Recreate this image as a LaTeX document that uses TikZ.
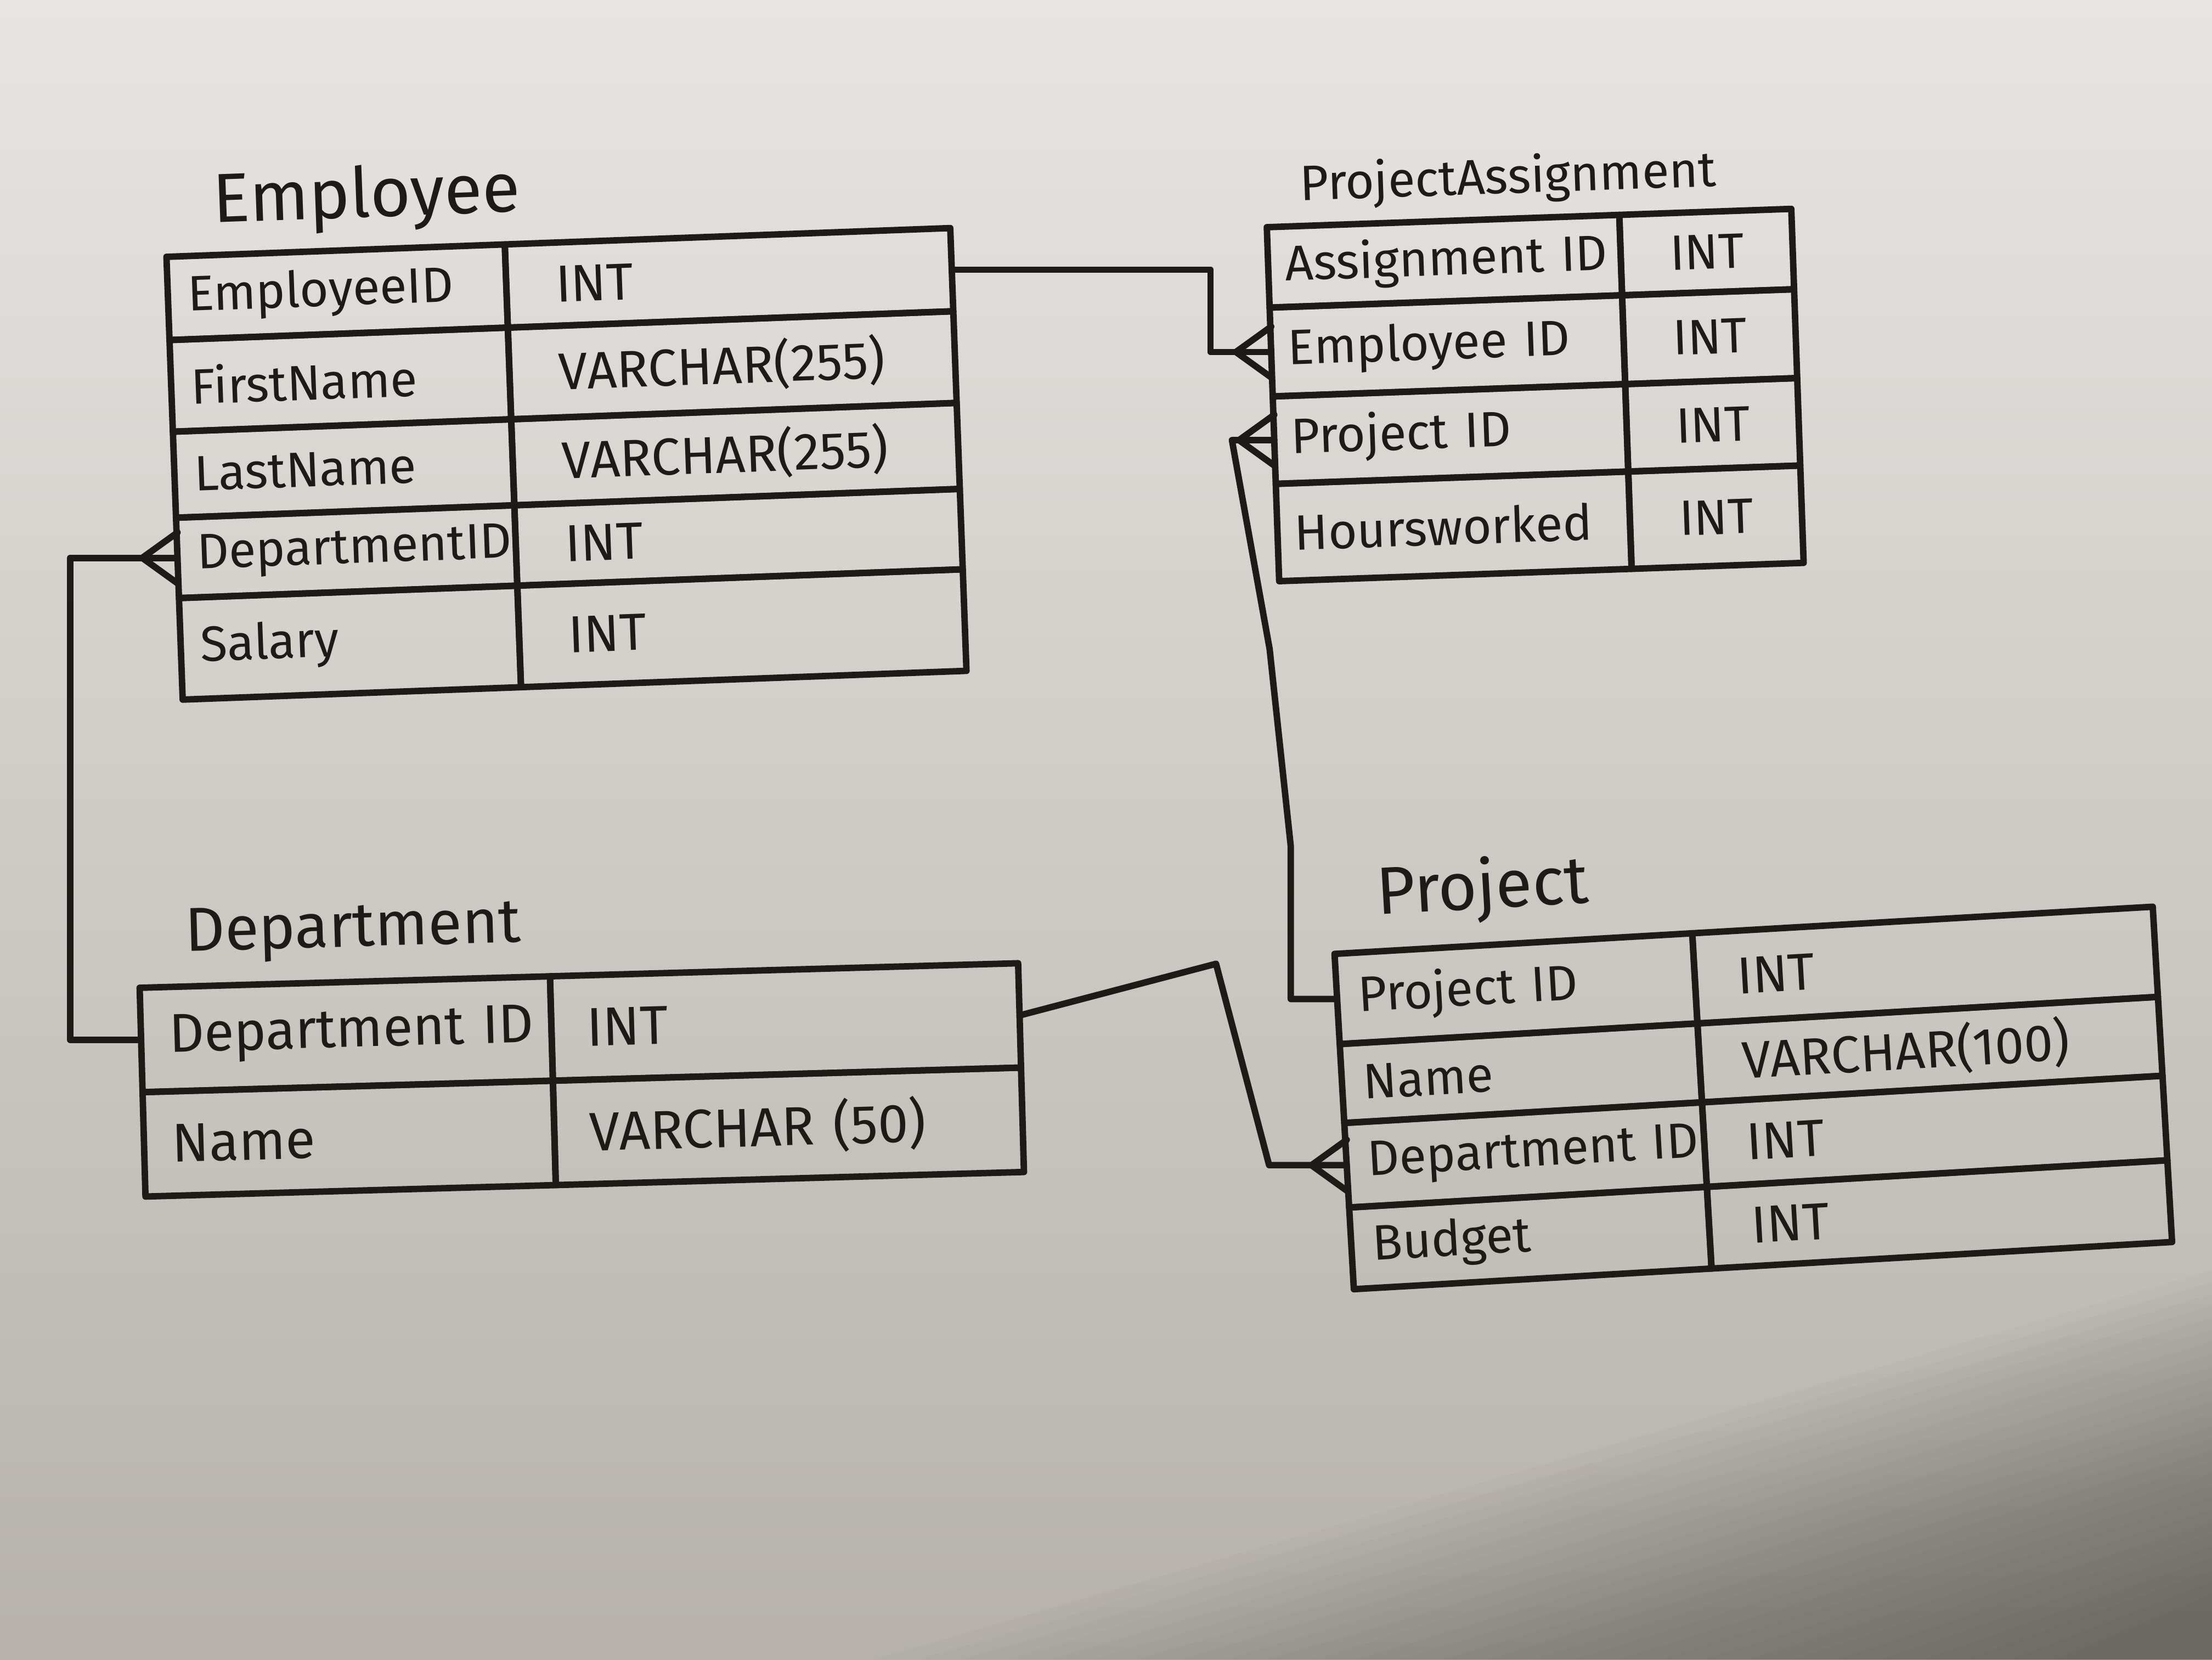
\documentclass[tikz,border=0pt]{standalone}
\usepackage{fontspec}
\setmainfont{Fira Sans}
\usetikzlibrary{arrows.meta,positioning}

\definecolor{inkc}{RGB}{30,26,24}
\definecolor{paperT}{RGB}{231,229,226}
\definecolor{paperM}{RGB}{222,220,216}
\definecolor{paperB}{RGB}{182,178,171}
\definecolor{shadowc}{RGB}{50,47,44}

\begin{document}
\begin{tikzpicture}[x=0.1mm, y=-0.1mm,
    ink/.style={draw=inkc, line width=1.3pt, line cap=round, line join=round},
    cell/.style={ink, anchor=north west, inner sep=0pt, outer sep=0pt, align=left, text=inkc, font=\fontsize{#1}{14}\selectfont},
    cell/.default=11,
    title/.style={anchor=base west, text=inkc, font=\fontsize{#1}{16}\selectfont},
    title/.default=14,
    crow/.pic={\draw[ink] (0,-18) -- (-25,0) -- (0,18);}]

    % paper, with the shadow in the lower right corner
    \shade[top color=paperT, middle color=paperM, bottom color=paperB] (0,0) rectangle (1568,1176);
    \foreach \k in {0,...,27}
        \fill[shadowc, opacity=0.025] (620+31*\k,1176) -- (1568,900+8.5*\k) -- (1568,1176) -- cycle;

    % Employee
    \begin{scope}[shift={(118,182)}, rotate=2.1, transform shape]
        \node[title] (empTitle) at (22,-23) {Employee};
        \foreach \i/\nm/\ty/\y/\h in {1/EmployeeID/INT/0/5.9, 2/FirstName/VARCHAR(255)/59/6.5,
                3/LastName/VARCHAR(255)/124/6.1, 4/DepartmentID/INT/185/5.7, 5/Salary/INT/242/7.2}
        {
            \node[cell=10, minimum width=24mm, minimum height=\h mm, text width=21.2mm] (empN\i) at (0,\y) {\nm};
            \node[cell=10.5, minimum width=31.6mm, minimum height=\h mm, text width=24.6mm, right=0pt of empN\i] (empT\i) {\ty};
        }
    \end{scope}

    % ProjectAssignment
    \begin{scope}[shift={(898,161)}, rotate=2, transform shape]
        \node[title=10] (paTitle) at (12,-18) {ProjectAssignment};
        \foreach \i/\nm/\y/\h in {1/Assignment~ID/0/5.7, 2/Employee~ID/57/6.3, 3/Project~ID/120/6.2, 4/Hoursworked/182/6.9}
        {
            \node[cell=10, minimum width=25mm, minimum height=\h mm, text width=22.6mm] (paN\i) at (0,\y) {\nm};
            \node[cell=10, minimum width=12.2mm, minimum height=\h mm, text width=5.2mm, right=0pt of paN\i] (paT\i) {INT};
        }
    \end{scope}

    % Department
    \begin{scope}[shift={(99,700)}, rotate=1.6, transform shape]
        \node[title=12.5] (depTitle) at (21,-25) {Department};
        \foreach \i/\nm/\ty/\y/\h in {1/Department~ID/INT/0/7.4, 2/Name/VARCHAR~(50)/74/7.4}
        {
            \node[cell=11, minimum width=29.1mm, minimum height=\h mm, text width=25.1mm] (depN\i) at (0,\y) {\nm};
            \node[cell=11, minimum width=33.2mm, minimum height=\h mm, text width=28.2mm, right=0pt of depN\i] (depT\i) {\ty};
        }
    \end{scope}

    % Project
    \begin{scope}[shift={(946,676)}, rotate=3.3, transform shape]
        \node[title=13.5] (prTitle) at (20,-26) {Project};
        \foreach \i/\nm/\ty/\y/\h in {1/Project~ID/INT/0/6.4, 2/Name/VARCHAR(100)/64/5.6,
                3/Department~ID/INT/120/6.0, 4/Budget/INT/180/5.8}
        {
            \node[cell=10, minimum width=25.4mm, minimum height=\h mm, text width=22.4mm] (prN\i) at (0,\y) {\nm};
            \node[cell=10.5, minimum width=32.7mm, minimum height=\h mm, text width=26.7mm, right=0pt of prN\i] (prT\i) {\ty};
        }
    \end{scope}

    % relationships, crow's foot on the many side
    \coordinate (pBendA) at (900,460);
    \coordinate (pBendB) at (915,600);
    \coordinate (dPeak) at (862,683);
    \draw[ink] (paN2.west) -- ++(-43,0) |- (empT1.east);
    \draw[ink] (empN4.west) -- ++(-76,0) |- (depN1.west);
    \draw[ink] (paN3.west) -- ++(-30,0) -- (pBendA) -- (pBendB) |- (prN1.west);
    \draw[ink] (prN3.west) -- ++(-55,0) -- (dPeak) -- (depT1.east);
    \pic at (paN2.west) {crow};
    \pic at (paN3.west) {crow};
    \pic at (empN4.west) {crow};
    \pic at (prN3.west) {crow};
\end{tikzpicture}
\end{document}
